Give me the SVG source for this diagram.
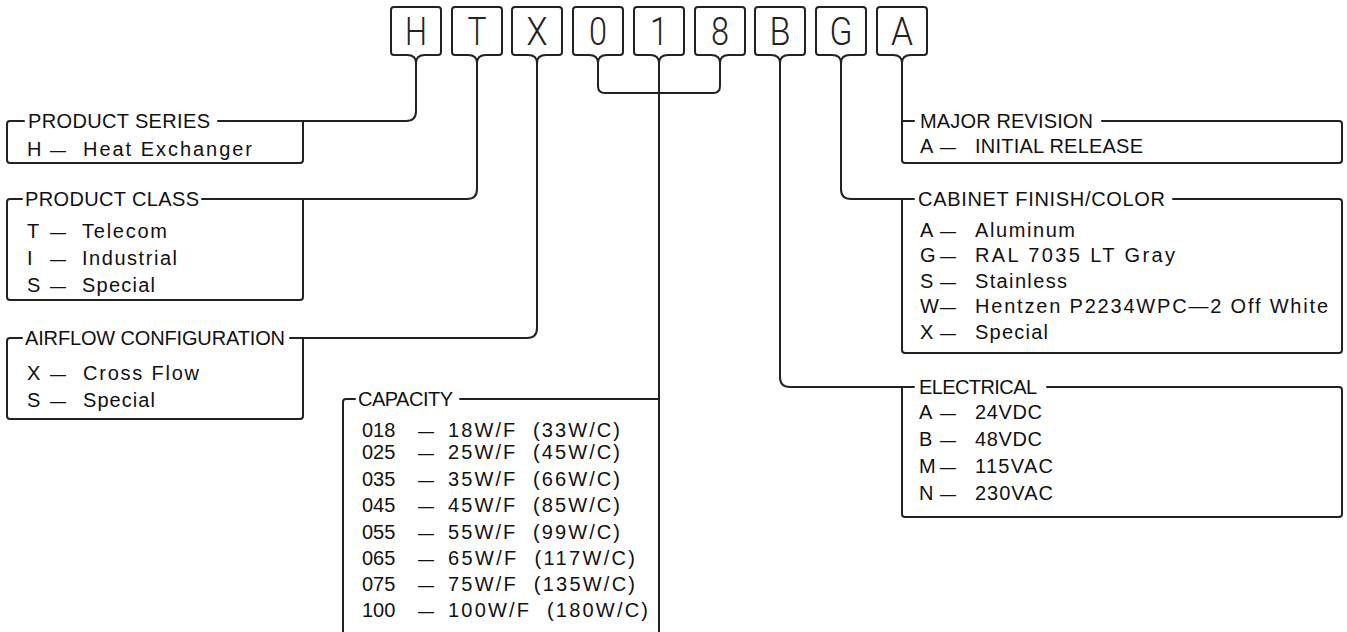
<svg xmlns="http://www.w3.org/2000/svg" xmlns:xlink="http://www.w3.org/1999/xlink" width="1347" height="632" viewBox="0 0 1347 632">
<style>
.ln{fill:none;stroke:#222;stroke-width:2;stroke-linejoin:round;stroke-linecap:round}
.big{font-family:Roboto,"Liberation Sans",Arial,sans-serif;font-weight:300;font-size:39px;fill:#222;text-anchor:middle}
.t{font-family:"Liberation Sans",Arial,sans-serif;font-size:20px;fill:#111}
.d{font-family:"Liberation Sans",Arial,sans-serif;font-size:16px;fill:#111}
.cv{word-spacing:8px}
</style>
<defs>
<path id="lbox" class="ln" d="M -22,7 H 22 Q 25,7 25,10 V 52 Q 25,55 22,55 H 9 Q 0,55 0,63 Q 0,55 -9,55 H -22 Q -25,55 -25,52 V 10 Q -25,7 -22,7 Z"/>
</defs>
<rect width="1347" height="632" fill="#fff"/>

<g id="code-letters">
<g id="box-H"><use xlink:href="#lbox" x="416"/><text class="big" x="416" y="45" textLength="22" lengthAdjust="spacingAndGlyphs">H</text></g>
<g id="box-T"><use xlink:href="#lbox" x="477"/><text class="big" x="477" y="45" textLength="19" lengthAdjust="spacingAndGlyphs">T</text></g>
<g id="box-X"><use xlink:href="#lbox" x="537"/><text class="big" x="537" y="45" textLength="21" lengthAdjust="spacingAndGlyphs">X</text></g>
<g id="box-0"><use xlink:href="#lbox" x="598"/><text class="big" x="598" y="45" textLength="18" lengthAdjust="spacingAndGlyphs">0</text></g>
<g id="box-1"><use xlink:href="#lbox" x="659"/><text class="big" x="659" y="45" textLength="18" lengthAdjust="spacingAndGlyphs">1</text></g>
<g id="box-8"><use xlink:href="#lbox" x="720"/><text class="big" x="720" y="45" textLength="18" lengthAdjust="spacingAndGlyphs">8</text></g>
<g id="box-B"><use xlink:href="#lbox" x="780"/><text class="big" x="780" y="45" textLength="21" lengthAdjust="spacingAndGlyphs">B</text></g>
<g id="box-G"><use xlink:href="#lbox" x="841"/><text class="big" x="841" y="45" textLength="23" lengthAdjust="spacingAndGlyphs">G</text></g>
<g id="box-A"><use xlink:href="#lbox" x="902"/><text class="big" x="902" y="45" textLength="22" lengthAdjust="spacingAndGlyphs">A</text></g>
</g>

<g id="connectors">
<path class="ln" d="M 416,63 V 111 Q 416,121 406,121 H 303"/>
<path class="ln" d="M 477,63 V 189 Q 477,199 467,199 H 303"/>
<path class="ln" d="M 537,63 V 328 Q 537,338 527,338 H 303"/>
<path class="ln" d="M 598,63 V 86 Q 598,93 605,93 H 713 Q 720,93 720,86 V 63"/>
<path class="ln" d="M 659,63 V 399"/>
<path class="ln" d="M 780,63 V 377 Q 780,387 790,387 H 902"/>
<path class="ln" d="M 841,63 V 189 Q 841,199 851,199 H 902"/>
<path class="ln" d="M 902,63 V 121"/>
</g>

<g id="product-series">
<path class="ln" d="M 218,121 H 303 V 160 Q 303,163 300,163 H 10 Q 7,163 7,160 V 124 Q 7,121 10,121 H 24"/>
<text class="t" x="28" y="128" textLength="182">PRODUCT SERIES</text>
<text class="t" x="27" y="156">H</text><text class="d" x="50" y="156">—</text><text class="t" x="83" y="156" textLength="169">Heat Exchanger</text>
</g>

<g id="product-class">
<path class="ln" d="M 202,199 H 303 V 297 Q 303,300 300,300 H 10 Q 7,300 7,297 V 202 Q 7,199 10,199 H 22"/>
<text class="t" x="25" y="206" textLength="174">PRODUCT CLASS</text>
<text class="t" x="27" y="238">T</text><text class="d" x="50" y="238">—</text><text class="t" x="82" y="238" textLength="85">Telecom</text>
<text class="t" x="27" y="265">I</text><text class="d" x="50" y="265">—</text><text class="t" x="82" y="265" textLength="95">Industrial</text>
<text class="t" x="27" y="292">S</text><text class="d" x="50" y="292">—</text><text class="t" x="82" y="292" textLength="73">Special</text>
</g>

<g id="airflow-configuration">
<path class="ln" d="M 290,338 H 303 V 416 Q 303,419 300,419 H 10 Q 7,419 7,416 V 341 Q 7,338 10,338 H 22"/>
<text class="t" x="25" y="345" textLength="260">AIRFLOW CONFIGURATION</text>
<text class="t" x="27" y="380">X</text><text class="d" x="50" y="380">—</text><text class="t" x="83" y="380" textLength="116">Cross Flow</text>
<text class="t" x="27" y="407">S</text><text class="d" x="50" y="407">—</text><text class="t" x="83" y="407" textLength="72">Special</text>
</g>

<g id="capacity">
<path class="ln" d="M 460,399 H 659 V 640"/>
<path class="ln" d="M 355,399 H 346 Q 343,399 343,402 V 640"/>
<text class="t" x="358" y="406" textLength="95">CAPACITY</text>
<text class="t" x="362" y="437">018</text><text class="d" x="418" y="437">—</text><text class="t cv" x="448" y="437" textLength="172">18W/F (33W/C)</text>
<text class="t" x="362" y="459">025</text><text class="d" x="418" y="459">—</text><text class="t cv" x="448" y="459" textLength="172">25W/F (45W/C)</text>
<text class="t" x="362" y="486">035</text><text class="d" x="418" y="486">—</text><text class="t cv" x="448" y="486" textLength="172">35W/F (66W/C)</text>
<text class="t" x="362" y="512">045</text><text class="d" x="418" y="512">—</text><text class="t cv" x="448" y="512" textLength="172">45W/F (85W/C)</text>
<text class="t" x="362" y="539">055</text><text class="d" x="418" y="539">—</text><text class="t cv" x="448" y="539" textLength="172">55W/F (99W/C)</text>
<text class="t" x="362" y="565">065</text><text class="d" x="418" y="565">—</text><text class="t cv" x="448" y="565" textLength="187">65W/F (117W/C)</text>
<text class="t" x="362" y="591">075</text><text class="d" x="418" y="591">—</text><text class="t cv" x="448" y="591" textLength="187">75W/F (135W/C)</text>
<text class="t" x="362" y="617">100</text><text class="d" x="418" y="617">—</text><text class="t cv" x="448" y="617" textLength="200">100W/F (180W/C)</text>
</g>

<g id="major-revision">
<path class="ln" d="M 902,121 H 914 M 1102,121 H 1339 Q 1342,121 1342,124 V 160 Q 1342,163 1339,163 H 905 Q 902,163 902,160 V 121"/>
<text class="t" x="920" y="128" textLength="173">MAJOR REVISION</text>
<text class="t" x="920" y="153">A</text><text class="d" x="940" y="153">—</text><text class="t" x="975" y="153" textLength="168">INITIAL RELEASE</text>
</g>

<g id="cabinet-finish">
<path class="ln" d="M 902,199 H 914 M 1173,199 H 1339 Q 1342,199 1342,202 V 350 Q 1342,353 1339,353 H 905 Q 902,353 902,350 V 199"/>
<text class="t" x="918" y="206" textLength="247">CABINET FINISH/COLOR</text>
<text class="t" x="920" y="237">A</text><text class="d" x="940" y="237">—</text><text class="t" x="975" y="237" textLength="100">Aluminum</text>
<text class="t" x="920" y="262">G</text><text class="d" x="940" y="262">—</text><text class="t" x="975" y="262" textLength="200">RAL 7035 LT Gray</text>
<text class="t" x="920" y="288">S</text><text class="d" x="940" y="288">—</text><text class="t" x="975" y="288" textLength="92">Stainless</text>
<text class="t" x="920" y="313">W</text><text class="d" x="940" y="313">—</text><text class="t" x="975" y="313" textLength="353">Hentzen P2234WPC—2 Off White</text>
<text class="t" x="920" y="339">X</text><text class="d" x="940" y="339">—</text><text class="t" x="975" y="339" textLength="73">Special</text>
</g>

<g id="electrical">
<path class="ln" d="M 902,387 H 914 M 1047,387 H 1339 Q 1342,387 1342,390 V 514 Q 1342,517 1339,517 H 905 Q 902,517 902,514 V 387"/>
<text class="t" x="919" y="394" textLength="118">ELECTRICAL</text>
<text class="t" x="919" y="419">A</text><text class="d" x="940" y="419">—</text><text class="t" x="975" y="419" textLength="67">24VDC</text>
<text class="t" x="919" y="446">B</text><text class="d" x="940" y="446">—</text><text class="t" x="975" y="446" textLength="67">48VDC</text>
<text class="t" x="919" y="473">M</text><text class="d" x="940" y="473">—</text><text class="t" x="975" y="473" textLength="78">115VAC</text>
<text class="t" x="919" y="500">N</text><text class="d" x="940" y="500">—</text><text class="t" x="975" y="500" textLength="78">230VAC</text>
</g>
</svg>
